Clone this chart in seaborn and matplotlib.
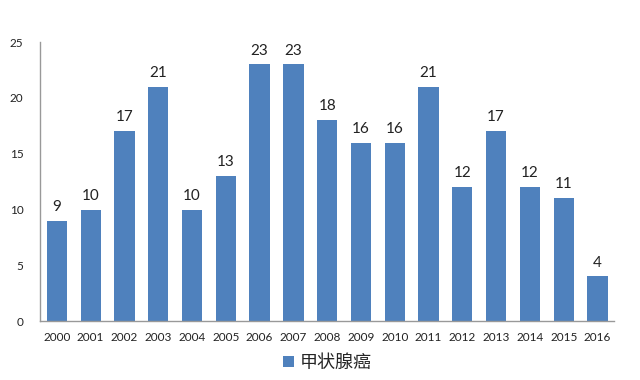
import numpy as np
import pandas as pd
import matplotlib
matplotlib.use("Agg")
import matplotlib.pyplot as plt
import seaborn as sns

# dati
anni = [str(a) for a in range(2000, 2017)]
casi = [9, 10, 17, 21, 10, 13, 23, 23, 18, 16, 16, 21, 12, 17, 12, 11, 4]
serie = "甲状腺癌"

df = pd.DataFrame({"anno": anni, "casi": casi, "serie": serie})

sns.set_style("white")
plt.rcParams['font.family'] = ['Lato', 'Noto Sans CJK SC', 'DejaVu Sans']

fig, ax = plt.subplots(figsize=(6.4, 3.8), dpi=100)
fig.subplots_adjust(left=0.0625, right=0.96, top=0.889, bottom=0.155)

sns.barplot(data=df, x="anno", y="casi", hue="serie",
            palette=["#4F81BD"], width=0.6, ax=ax, saturation=1,
            linewidth=0, edgecolor="none")

for c in ax.containers:
    ax.bar_label(c, fmt="%d", padding=5, fontsize=11, color="#222222")

ax.set_ylim(0, 25)
ax.set_yticks(range(0, 26, 5))
ax.set_xlim(-0.5, len(anni) - 0.5)
ax.set_xlabel("")
ax.set_ylabel("")
ax.tick_params(axis="both", labelsize=8.5, length=0, colors="#222222")
ax.tick_params(axis="x", pad=8)
ax.tick_params(axis="y", pad=12)

for s in ["top", "right"]:
    ax.spines[s].set_visible(False)
for s in ["left", "bottom"]:
    ax.spines[s].set_color("#999999")
    ax.spines[s].set_linewidth(1)

leg = ax.legend(loc="upper center", bbox_to_anchor=(0.5, -0.06), frameon=False,
                fontsize=13, handlelength=0.6, handleheight=0.6, handletextpad=0.3)
for t in leg.get_texts():
    t.set_family(['Noto Sans CJK SC', 'DejaVu Sans'])

fig.savefig("out.png", dpi=100)
